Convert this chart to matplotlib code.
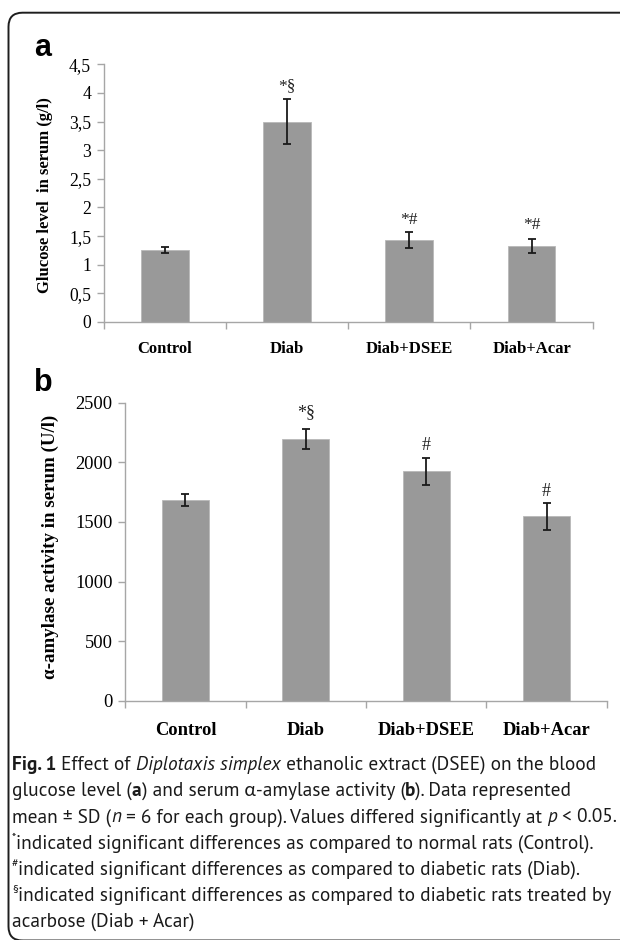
import matplotlib
matplotlib.use("Agg")
import matplotlib.pyplot as plt
from matplotlib.patches import FancyBboxPatch
from matplotlib.transforms import IdentityTransform
from matplotlib.font_manager import FontProperties

# ---------------- data ----------------
categories = ["Control", "Diab", "Diab+DSEE", "Diab+Acar"]
glucose_mean = [1.26, 3.50, 1.44, 1.33]
glucose_sd = [0.05, 0.40, 0.14, 0.12]
glucose_marks = ["", "*§", "*#", "*#"]
glucose_mark_y = [0, 4.12, 1.78, 1.69]
glucose_ticks = [0, 0.5, 1, 1.5, 2, 2.5, 3, 3.5, 4, 4.5]
glucose_ticklabels = ["0", "0,5", "1", "1,5", "2", "2,5", "3", "3,5", "4", "4,5"]

amylase_mean = [1684, 2195, 1925, 1547]
amylase_sd = [47, 82, 112, 113]
amylase_marks = ["", "*§", "#", "#"]
amylase_mark_y = [0, 2413, 2145, 1759]
amylase_ticks = [0, 500, 1000, 1500, 2000, 2500]

W, H = 620, 940
fig = plt.figure(figsize=(6.2, 9.4), dpi=100)

SERIF = "Liberation Serif"
BAR = "#999999"
AXC = "#a6a6a6"


def px(x, y):
    return x / W, 1 - y / H


def make_panel(rect, means, sds, marks, mark_y, yticks, yticklabels, ylim, pad, tfs, cfs, mfs):
    ax = fig.add_axes(rect)
    xs = list(range(len(categories)))
    ax.bar(xs, means, width=0.39, color=BAR, edgecolor="#b8b8b8", linewidth=0.6, zorder=2)
    ax.errorbar(xs, means, yerr=sds, fmt="none", ecolor="#1a1a1a", elinewidth=1.3,
                capsize=3.0, capthick=1.3, zorder=3)
    for x, m, yv in zip(xs, marks, mark_y):
        if m:
            ax.text(x, yv, m, ha="center", va="center", family=SERIF, fontsize=mfs, color="#222")
    ax.set_xlim(-0.5, len(categories) - 0.5)
    ax.set_ylim(*ylim)
    ax.set_yticks(yticks)
    ax.set_yticklabels(yticklabels, family=SERIF, fontsize=tfs)
    ax.set_xticks(xs)
    ax.set_xticklabels(categories, family=SERIF, fontsize=cfs, fontweight="bold")
    ax.set_xticks([i - 0.5 for i in range(len(categories) + 1)], minor=True)
    ax.tick_params(axis="x", which="major", length=0, pad=pad)
    ax.tick_params(axis="x", which="minor", length=5, color=AXC, width=1)
    ax.tick_params(axis="y", length=5, color=AXC, width=1, pad=4)
    for s in ["top", "right"]:
        ax.spines[s].set_visible(False)
    for s in ["left", "bottom"]:
        ax.spines[s].set_color(AXC)
        ax.spines[s].set_linewidth(1.0)
    return ax


# panel a
l, b = px(103.7, 322)
ax1 = make_panel([l, b, 489 / W, 257.7 / H], glucose_mean, glucose_sd, glucose_marks,
                 glucose_mark_y, glucose_ticks, glucose_ticklabels, (0, 4.5), 14,
                 12.7, 12, 12.5)
# panel b
l, b = px(125.3, 700.7)
ax2 = make_panel([l, b, 481.4 / W, 298 / H], amylase_mean, amylase_sd, amylase_marks,
                 amylase_mark_y, amylase_ticks, [str(t) for t in amylase_ticks], (0, 2500), 15.5,
                 13.3, 13.3, 13)

# y labels
x, y = px(45, 195)
fig.text(x, y, "Glucose level  in serum (g/l)", rotation=90, ha="center", va="center",
         family=SERIF, fontsize=12, fontweight="bold")
x, y = px(50, 547)
fig.text(x, y, "α-amylase activity in serum (U/l)", rotation=90, ha="center", va="center",
         family=SERIF, fontsize=13.6, fontweight="bold")

# panel letters
x, y = px(34, 48)
fig.text(x, y, "a", ha="left", va="center", family="Liberation Sans", fontsize=22, fontweight="bold")
x, y = px(34, 383)
fig.text(x, y, "b", ha="left", va="center", family="Liberation Sans", fontsize=22, fontweight="bold")

# border (pixel coordinates, origin bottom-left)
border = FancyBboxPatch((8.5, -0.5), 700, H - 12.7 + 0.5,
                        boxstyle="round,pad=0,rounding_size=14", transform=IdentityTransform(),
                        facecolor="none", edgecolor="#1e1e1e", linewidth=1.4, zorder=10)
fig.add_artist(border)

# caption
renderer = fig.canvas.get_renderer()
CAP = ["PT Sans", "Lato", "DejaVu Sans"]


def seg_width(s, fp):
    t1 = fig.text(0, 0, "x" + s + "x", fontproperties=fp)
    t2 = fig.text(0, 0, "xx", fontproperties=fp)
    w = t1.get_window_extent(renderer).width - t2.get_window_extent(renderer).width
    t1.remove()
    t2.remove()
    return w


def seg_props(style, cs):
    if style == "sup":
        return FontProperties(family=CAP, size=cs * 0.62)
    return FontProperties(family=CAP, size=cs,
                          weight="bold" if style == "b" else "normal",
                          style="italic" if style == "i" else "normal")


def line_width(segs, cs):
    return sum(seg_width(s, seg_props(st, cs)) for s, st in segs)


def draw_line(x0, ybase, segs, cs):
    xcur = x0
    for s, style in segs:
        fp = seg_props(style, cs)
        yb = ybase - 8 if style == "sup" else ybase
        fig.text(xcur / W, 1 - yb / H, s, fontproperties=fp, ha="left", va="baseline",
                 color="#1a1a1a")
        xcur += seg_width(s, fp)


lines = [
    [("Fig. 1", "b"), (" Effect of ", "n"), ("Diplotaxis simplex", "i"),
     (" ethanolic extract (DSEE) on the blood", "n")],
    [("glucose level (", "n"), ("a", "b"), (") and serum α-amylase activity (", "n"), ("b", "b"),
     ("). Data represented", "n")],
    [("mean ± SD (", "n"), ("n", "i"), (" = 6 for each group). Values differed significantly at ", "n"),
     ("p", "i"), (" < 0.05.", "n")],
    [("*", "sup"), ("indicated significant differences as compared to normal rats (Control).", "n")],
    [("#", "sup"), ("indicated significant differences as compared to diabetic rats (Diab).", "n")],
    [("§", "sup"), ("indicated significant differences as compared to diabetic rats treated by", "n")],
    [("acarbose (Diab + Acar)", "n")],
]
# caption size chosen so that the longest line spans the reference caption width
ref_cs = 12.0
target = 602.0
cs = ref_cs * target / line_width(lines[2], ref_cs)
for i, segs in enumerate(lines):
    draw_line(12, 770 + i * 26.2, segs, cs)

fig.savefig("out.png", dpi=100, facecolor="white")
